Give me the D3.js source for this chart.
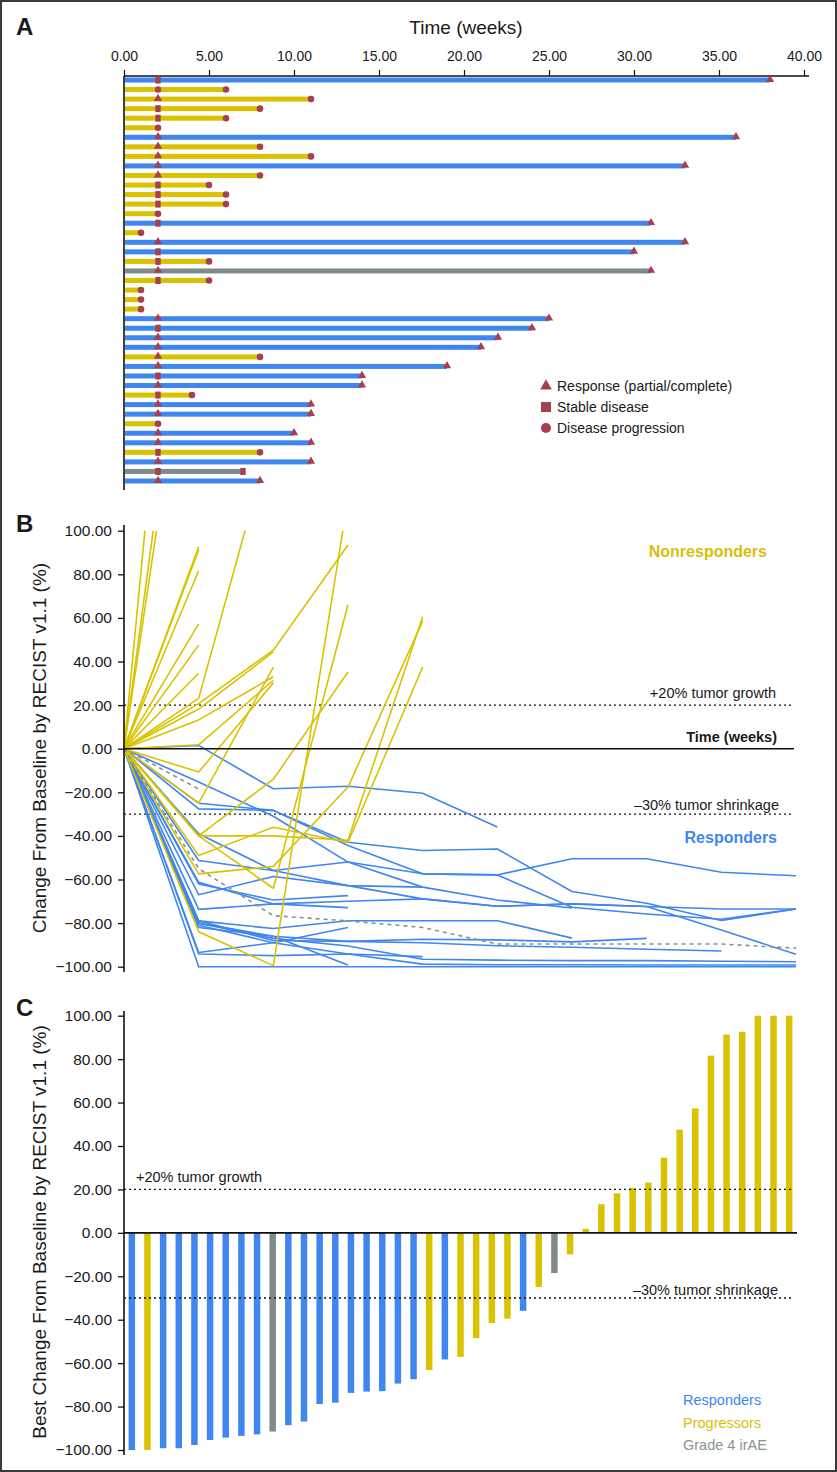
<!DOCTYPE html>
<html><head><meta charset="utf-8">
<script src="https://cdn.jsdelivr.net/npm/d3@7"></script>
<style>
body{margin:0;background:#fff}
svg{display:block}
text{font-family:"Liberation Sans",Arial,Helvetica,sans-serif;fill:#1a1a1a}
</style>
</head><body>
<svg id="c" width="837" height="1472"></svg>
<script>
// ---------- colours ----------
const groupColor = {R:"#3f86ef", P:"#d9c300", G:"#7f8b8b"};
const markerColor = "#a6404f";

// ---------- Panel A data (43 patients, top to bottom) ----------
const aTicks = [0,5,10,15,20,25,30,35,40];
const aGroup = ["R","P","P","P","P","P","R","P","P","R","P","P","P","P","P","R","P","R","R","P","G","P","P","P","P",
                "R","R","R","R","P","R","R","R","P","R","R","P","R","R","P","R","G","R"];
const aFirstAssessment = 2; // weeks
const aMidMarker = ["sq","ci","tri","sq","sq","none","tri","tri","tri","tri","tri","sq","sq","sq","none","sq","none","tri","sq","sq","tri","sq","none","none","none",
                    "tri","sq","tri","tri","tri","tri","sq","tri","sq","tri","tri","none","tri","tri","sq","tri","sq","tri"];
const aEndWeeks = [38,6,11,8,6,2,36,8,11,33,8,5,6,6,2,31,1,33,30,5,31,5,1,1,1,
                   25,24,22,21,8,19,14,14,4,11,11,2,10,11,8,11,7,8];
const aEndMarker = ["tri","ci","ci","ci","ci","ci","tri","ci","ci","tri","ci","ci","ci","ci","ci","tri","ci","tri","tri","ci","tri","ci","ci","ci","ci",
                    "tri","tri","tri","tri","ci","tri","tri","tri","ci","tri","tri","ci","tri","tri","ci","tri","sq","tri"];
const legendLabels = ["Response (partial/complete)","Stable disease","Disease progression"];
const legendSymbols = ["tri","sq","ci"];

// ---------- Panel B data (change from baseline at each assessment) ----------
const bVisits = [0,1,2,3,4,5,6,7,8,9];
const bTicks = [-100,-80,-60,-40,-20,0,20,40,60,80,100];
const yellowTraj = [
  [0,357],[0,256],[0,230],[0,92.6],[0,91.3],[0,81.6],[0,57.3],[0,47.5],[0,34.6],
  [0,23.1,147],[0,20.7,45.2,93.4],[0,18.2,44.4],[0,13.2,33],[0,1.8,31.4],
  [0,-10.7,30.2],[0,-25,37.4],
  [0,-84,-99.5,115],[0,-40,-64,66],[0,-57.4,-54,-17.6,58.6],[0,-49,-36,-43,37.5],
  [0,-40,-40,-42,60.5],[0,-40,-14,35.2]
];
const blueTraj = [
  [0,1.5,-18.4,-17.2,-20.4,-35.9],
  [0,-27.6,-28.3,-44.4,-57.4,-57.9,-50.5,-50.5,-56.7,-58.3],
  [0,-25,-28.3,-42.9,-46.7,-46,-65.5,-70.9,-78.8,-73.5],
  [0,-15.3,-31,-52,-57.4,-57.9,-72.7,-75.8,-78.2,-73.5],
  [0,-39,-55.9,-62.8,-68.9,-72.3,-71.2,-72.4,-83.2,-94.3],
  [0,-51.3,-55.9,-52,-63.5,-69.4,-73.1],
  [0,-61.3,-71.2,-72.9],
  [0,-67,-58.6,-62.8,-63.5],
  [0,-62,-69.4,-67.4],
  [0,-73.7,-71.2,-70,-68.9,-72.3,-71.2,-72.4,-73.5,-73.5],
  [0,-79,-82.5,-78.9,-78.9,-78.9,-86.9],
  [0,-82,-86,-88.4,-87.4,-87.7,-88.6,-87],
  [0,-78.9,-88,-88.4,-89,-90.4,-91.1,-92,-92.8],
  [0,-93.5,-89,-82],
  [0,-94.2,-94.9,-94.2,-95.4],
  [0,-80,-87,-90.5,-96.6,-97,-97.2,-97.2,-97.5,-97.7],
  [0,-81,-89,-94.2,-98.8,-99.1,-99.1,-99.2,-99.2,-99.2],
  [0,-80,-86,-99.2],
  [0,-100,-100,-100,-100,-100,-100,-100,-100,-100]
];
const grayTraj = [
  [0,-18.5],
  [0,-55,-76.6,-79,-82,-89.6,-89.6,-89.6,-89.6,-91.5]
];

// ---------- Panel C data (best change, waterfall order) ----------
const cGroup = ["R","P","R","R","R","R","R","R","R","G","R","R","R","R","R","R","R","R","R","P","R","P","P","P","P","R","P","G","P",
                "P","P","P","P","P","P","P","P","P","P","P","P","P","P"];
const cValues = [-100,-100,-99.2,-99.2,-97.7,-95.4,-94.3,-93.5,-92.8,-91.5,-88.6,-86.9,-78.8,-78.2,-73.7,-73.1,-72.9,-69.4,-67.4,-63.2,-58.3,-57.1,-48.5,-41.5,-39.5,-35.9,-24.9,-18.5,-9.9,
                 1.8,13.2,18.2,20.7,23.1,34.6,47.5,57.3,81.6,91.3,92.6,100,100,100];
const cLegend = [["Responders","R"],["Progressors","P"],["Grade 4 irAE","G"]];

const fmt = d3.format(".2f");
const svg = d3.select("#c");

// outer frame
svg.append("rect").attr("x",1).attr("y",1).attr("width",835).attr("height",1470)
   .attr("fill","none").attr("stroke","#3a3a3a").attr("stroke-width",2);

function marker(g, type, x, y, size){
  if(type==="none") return;
  const sym = type==="tri"?d3.symbolTriangle:(type==="sq"?d3.symbolSquare:d3.symbolCircle);
  g.append("path").attr("d",d3.symbol(sym,size)())
   .attr("transform",`translate(${x},${y})`).attr("fill",markerColor);
}

// ================= Panel A =================
const xA = d3.scaleLinear().domain([0,40]).range([124,804]);
const yA = d3.scalePoint().domain(d3.range(aGroup.length)).range([80,481]);
const gA = svg.append("g");
gA.append("text").attr("x",16).attr("y",35).attr("font-size",24).attr("font-weight","bold").text("A");
gA.append("text").attr("x",466).attr("y",34).attr("text-anchor","middle").attr("font-size",19).text("Time (weeks)");
const axA = gA.append("g").attr("transform","translate(0,76)")
  .call(d3.axisTop(xA).tickValues(aTicks).tickFormat(fmt).tickSize(6).tickPadding(9));
axA.select(".domain").remove();
axA.selectAll("text").attr("font-size",14).attr("font-family","Liberation Sans, Arial, sans-serif").attr("fill","#1a1a1a");
axA.selectAll("line").attr("stroke","#111").attr("stroke-width",1.2);
gA.append("line").attr("x1",124).attr("x2",809).attr("y1",76).attr("y2",76).attr("stroke","#111").attr("stroke-width",1.6);
gA.append("line").attr("x1",124).attr("x2",124).attr("y1",76).attr("y2",490).attr("stroke","#111").attr("stroke-width",1.6);

aGroup.forEach((grp,i)=>{
  const y = yA(i);
  gA.append("rect").attr("x",xA(0)+1).attr("y",y-2.5).attr("width",xA(aEndWeeks[i])-xA(0)-1).attr("height",5)
    .attr("fill",groupColor[grp]);
});
aGroup.forEach((grp,i)=>{
  const y = yA(i);
  const mt = aMidMarker[i];
  if(mt==="sq") gA.append("rect").attr("x",xA(aFirstAssessment)-2.7).attr("y",y-3.5).attr("width",5.4).attr("height",7).attr("fill",markerColor);
  else marker(gA, mt, xA(aFirstAssessment), mt==="tri"?y-0.5:y, mt==="tri"?30:32);
  const et = aEndMarker[i];
  if(et==="sq") gA.append("rect").attr("x",xA(aEndWeeks[i])-2.7).attr("y",y-3.5).attr("width",5.4).attr("height",7).attr("fill",markerColor);
  else marker(gA, et, xA(aEndWeeks[i]), et==="tri"?y-0.5:y, et==="tri"?30:34);
});
// legend A
legendLabels.forEach((lab,i)=>{
  const y = 386 + i*21;
  if(legendSymbols[i]==="sq") gA.append("rect").attr("x",541).attr("y",y-5).attr("width",10).attr("height",10).attr("fill",markerColor);
  else marker(gA, legendSymbols[i], 546, y, legendSymbols[i]==="tri"?60:80);
  gA.append("text").attr("x",557).attr("y",y+5).attr("font-size",14).text(lab);
});

// ================= Panel B =================
const xB = d3.scaleLinear().domain(d3.extent(bVisits)).range([124,796]);
const yB = d3.scaleLinear().domain([-100,100]).range([966.7,530.7]);
const gB = svg.append("g");
gB.append("text").attr("x",16).attr("y",532).attr("font-size",24).attr("font-weight","bold").text("B");
svg.append("defs").append("clipPath").attr("id","clipB").append("rect")
   .attr("x",110).attr("y",yB(100)).attr("width",700).attr("height",yB(-100)-yB(100)+6);

function refLines(g, y, top, bottom){
  g.append("line").attr("x1",124).attr("x2",794).attr("y1",y(20)).attr("y2",y(20))
   .attr("stroke","#111").attr("stroke-width",1.3).attr("stroke-dasharray","2,3");
  g.append("line").attr("x1",124).attr("x2",794).attr("y1",y(-30)).attr("y2",y(-30))
   .attr("stroke","#111").attr("stroke-width",1.3).attr("stroke-dasharray","2,3");
}
refLines(gB, yB);
gB.append("text").attr("x",776).attr("y",698).attr("text-anchor","end").attr("font-size",14.5).text("+20% tumor growth");
gB.append("text").attr("x",779).attr("y",810).attr("text-anchor","end").attr("font-size",14.5).text("\u201330% tumor shrinkage");
gB.append("text").attr("x",777).attr("y",742).attr("text-anchor","end").attr("font-size",14.5).attr("font-weight","bold").text("Time (weeks)");
gB.append("text").attr("x",767).attr("y",557).attr("text-anchor","end").attr("font-size",16).attr("font-weight","bold")
   .style("fill","#d6c00c").text("Nonresponders");
gB.append("text").attr("x",777).attr("y",843).attr("text-anchor","end").attr("font-size",16).attr("font-weight","bold")
   .style("fill",groupColor.R).text("Responders");

const lineB = d3.line().x((d,i)=>xB(bVisits[i])).y(d=>yB(d));
const linesG = gB.append("g").attr("clip-path","url(#clipB)");
linesG.selectAll(".bl").data(blueTraj).join("path").attr("d",lineB)
  .attr("fill","none").attr("stroke",groupColor.R).attr("stroke-width",1.6).attr("stroke-linejoin","round");
linesG.selectAll(".yl").data(yellowTraj).join("path").attr("d",lineB)
  .attr("fill","none").attr("stroke",groupColor.P).attr("stroke-width",1.6).attr("stroke-linejoin","round");
linesG.selectAll(".gl").data(grayTraj).join("path").attr("d",lineB)
  .attr("fill","none").attr("stroke","#8a8f8f").attr("stroke-width",1.6).attr("stroke-dasharray","4,4");

gB.append("line").attr("x1",124).attr("x2",794).attr("y1",yB(0)).attr("y2",yB(0)).attr("stroke","#111").attr("stroke-width",1.6);
function yAxis(g, y, top, bottom){
  const ax = g.append("g").attr("transform","translate(124,0)")
    .call(d3.axisLeft(y).tickValues(bTicks).tickFormat(fmt).tickSize(6).tickPadding(6));
  ax.select(".domain").remove();
  ax.selectAll("text").attr("font-size",15.5).attr("font-family","Liberation Sans, Arial, sans-serif").attr("fill","#1a1a1a");
  ax.selectAll("line").attr("stroke","#111").attr("stroke-width",1.3);
  g.append("line").attr("x1",124).attr("x2",124).attr("y1",top).attr("y2",bottom).attr("stroke","#111").attr("stroke-width",1.6);
}
yAxis(gB, yB, 525, 972);
gB.append("text").attr("transform","translate(46,748) rotate(-90)").attr("text-anchor","middle")
  .attr("font-size",19).text("Change From Baseline by RECIST v1.1 (%)");

// ================= Panel C =================
const xC = d3.scaleBand().domain(d3.range(cValues.length)).range([124,797]).paddingInner(0.585).paddingOuter(0.2925);
const yC = d3.scaleLinear().domain([-100,100]).range([1450,1015.7]);
const gC = svg.append("g");
gC.append("text").attr("x",16).attr("y",1016).attr("font-size",24).attr("font-weight","bold").text("C");
gC.selectAll(".bar").data(cValues).join("rect")
  .attr("x",(d,i)=>xC(i)).attr("width",xC.bandwidth())
  .attr("y",d=>yC(Math.max(0,d))).attr("height",d=>Math.abs(yC(d)-yC(0)))
  .attr("fill",(d,i)=>groupColor[cGroup[i]]);
refLines(gC, yC);
gC.append("line").attr("x1",124).attr("x2",797).attr("y1",yC(0)).attr("y2",yC(0)).attr("stroke","#111").attr("stroke-width",1.6);
gC.append("text").attr("x",136).attr("y",1182).attr("font-size",14.5).text("+20% tumor growth");
gC.append("text").attr("x",778).attr("y",1295).attr("text-anchor","end").attr("font-size",14.5).text("\u201330% tumor shrinkage");
yAxis(gC, yC, 1011, 1455);
gC.append("text").attr("transform","translate(46,1232) rotate(-90)").attr("text-anchor","middle")
  .attr("font-size",19).text("Best Change From Baseline by RECIST v1.1 (%)");
cLegend.forEach(([lab,k],i)=>{
  gC.append("text").attr("x",683).attr("y",1405+i*22.5).attr("font-size",14.5)
    .style("fill",k==="G"?"#8a9292":(k==="P"?"#d6c00c":groupColor.R)).text(lab);
});
</script>
</body></html>
